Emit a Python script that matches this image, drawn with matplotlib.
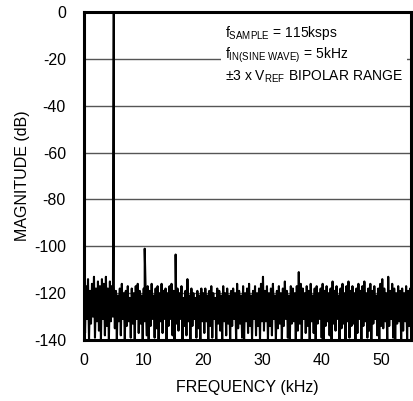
import numpy as np
import matplotlib
matplotlib.use("Agg")
import matplotlib.pyplot as plt

plt.rcParams['font.family'] = ['Liberation Sans Narrow', 'Liberation Sans', 'DejaVu Sans']
plt.rcParams['mathtext.fontset'] = 'custom'
plt.rcParams['mathtext.rm'] = 'Liberation Sans'
plt.rcParams['mathtext.it'] = 'Liberation Sans'
plt.rcParams['axes.unicode_minus'] = False

# noise floor: upper and lower excursions, alternating bins
peak_db = [
    -113, -117, -114, -119, -116, -113, -118, -115, -117, -114, -116, -113, -118, -115, -117,
    -117, -119, -121, -118, -116, -120, -119, -117, -122, -118, -120, -117, -116, -119, -121,
    -118, -120, -117, -119, -116, -121, -118, -117, -120, -116, -119, -118, -120, -117, -116,
    -119, -121, -118, -120, -117, -122, -119, -114, -121, -118, -120, -122, -119, -121, -118,
    -120, -118, -121, -119, -117, -120, -122, -118, -119, -121, -117, -120, -118, -121, -119,
    -118, -120, -116, -119, -121, -117, -120, -118, -116, -121, -119, -117, -120, -118, -116,
    -113, -119, -117, -120, -118, -116, -121, -119, -117, -120, -118, -115, -119, -121, -117,
    -118, -120, -117, -111, -116, -118, -120, -117, -119, -116, -121, -118, -117, -120, -118,
    -116, -119, -117, -120, -118, -115, -119, -117, -121, -118, -116, -120, -117, -115, -119,
    -117, -120, -118, -116, -119, -117, -115, -120, -118, -116, -119, -117, -121, -118, -116,
    -114, -118, -120, -113, -119, -116, -118, -120, -117, -119, -118, -120, -117, -119, -118,
]
dip_db = [
    -137, -131, -140, -133, -130, -139, -132, -136, -140, -131, -138, -134, -140, -132, -130,
    -135, -140, -132, -138, -131, -140, -134, -132, -139, -133, -140, -131, -137, -133, -140,
    -132, -138, -140, -134, -131, -139, -135, -140, -132, -137, -131, -140, -134, -131, -138,
    -140, -133, -136, -131, -140, -134, -138, -132, -140, -134, -131, -139, -135, -140, -132,
    -137, -132, -140, -134, -139, -131, -140, -133, -136, -140, -132, -138, -133, -140, -134,
    -131, -140, -135, -133, -139, -140, -132, -137, -134, -140, -131, -138, -134, -140, -132,
    -136, -132, -140, -134, -138, -131, -140, -135, -133, -140, -134, -131, -139, -140, -133,
    -132, -140, -136, -133, -140, -131, -137, -134, -140, -132, -137, -140, -133, -131, -139,
    -140, -134, -132, -138, -140, -133, -136, -131, -140, -135, -133, -140, -132, -139, -134,
    -133, -140, -137, -131, -140, -134, -132, -139, -136, -140, -133, -131, -138, -140, -134,
    -135, -132, -140, -134, -131, -139, -140, -133, -132, -140, -136, -132, -140, -134, -138,
]

# fundamental and harmonics
tone_khz = [5.0, 10.2, 15.4]
tone_db = [0, -101, -103.5]

noise = np.empty(len(peak_db) * 2)
noise[0::2] = peak_db
noise[1::2] = dip_db
freq = np.linspace(0, 55, len(noise))

f_all = np.concatenate([freq, tone_khz])
m_all = np.concatenate([noise, tone_db])
order = np.argsort(f_all, kind='stable')
f_all, m_all = f_all[order], m_all[order]

fig = plt.figure(figsize=(4.14, 4.01), dpi=100)
ax = fig.add_axes([0.203, 0.152, 0.790, 0.818])

for y in range(-120, 0, 20):
    ax.axhline(y, color='#555555', lw=1.0, zorder=1)

ax.plot(f_all, m_all, color='black', lw=1.5, zorder=2)

ax.set_xlim(0, 55)
ax.set_ylim(-140, 0)
ax.set_xticks(range(0, 60, 10))
ax.set_yticks(range(-140, 1, 20))
ax.tick_params(length=0, labelsize=11.5)
ax.tick_params(axis='y', pad=13)
ax.tick_params(axis='x', pad=9)
for s in ax.spines.values():
    s.set_linewidth(2.2)

ax.set_xlabel('FREQUENCY (kHz)', fontsize=11.5, labelpad=9)
ax.set_ylabel('MAGNITUDE (dB)', fontsize=11.5, labelpad=3)

ax.text(0.43, 0.965,
        'f$_{\\mathrm{SAMPLE}}$ = 115ksps\n'
        'f$_{\\mathrm{IN(SINE\\ WAVE)}}$ = 5kHz\n'
        '\u00b13 x V$_{\\mathrm{REF}}$ BIPOLAR RANGE',
        transform=ax.transAxes, ha='left', va='top', fontsize=10,
        linespacing=1.3, zorder=3,
        bbox=dict(facecolor='white', edgecolor='none', pad=3))

fig.savefig('out.png', dpi=100)
